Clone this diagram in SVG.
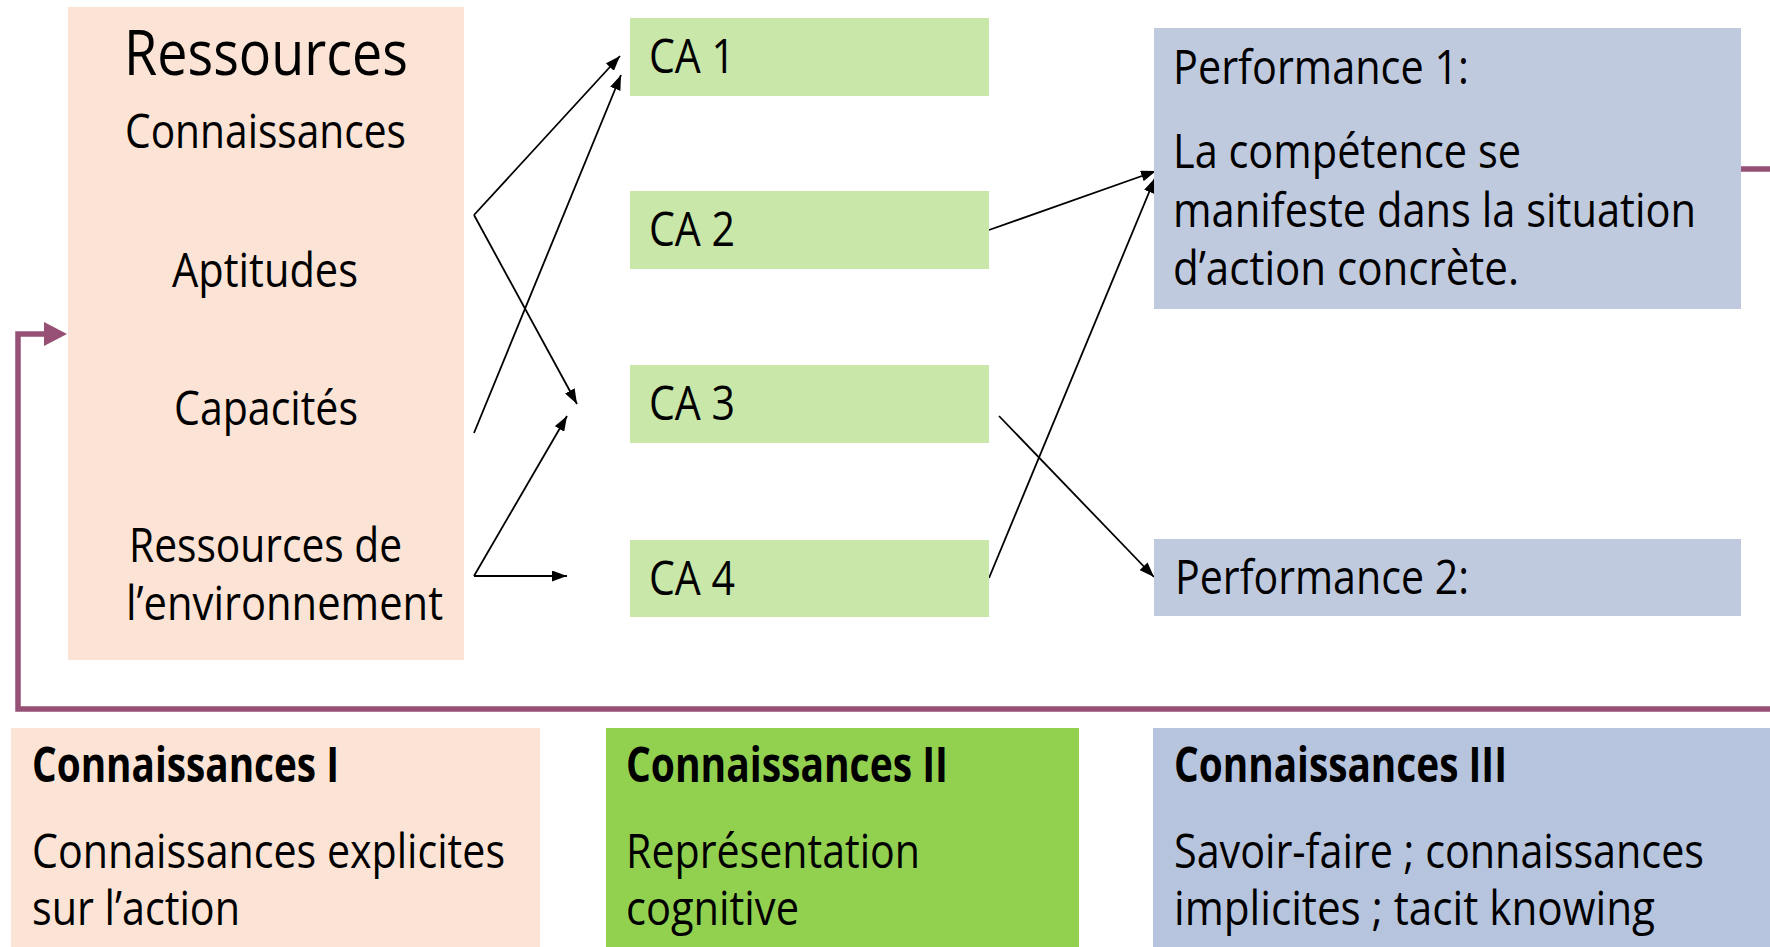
<svg xmlns="http://www.w3.org/2000/svg" width="1770" height="947" viewBox="0 0 1770 947">
<style>
text{font-family:"Open Sans","Noto Sans",sans-serif;font-size:48px;fill:#000}
.big{font-size:63px}
.b{font-weight:bold}
.peach{fill:#FBE4D5}
.ca{fill:#C9E7A9}
.perf{fill:#C0CADF}
.k2{fill:#92D050}
.k3{fill:#B7C4DD}
.arr{stroke:#000;stroke-width:1.8;fill:none;marker-end:url(#ah)}
.loop{stroke:#975075;stroke-width:5.5;fill:none}
</style>
<defs>
<marker id="ah" markerUnits="userSpaceOnUse" markerWidth="15" markerHeight="11" refX="15" refY="5.5" orient="auto">
<path d="M0,0 L15,5.5 L0,11 z" fill="#000"/>
</marker>
</defs>
<rect width="1770" height="947" fill="#fff"/>
<g id="connectors">
<path class="loop" d="M1741,169 H1790 V709 H18 V334 H46"/>
<path d="M44,322 L67,334 L44,346 z" fill="#975075"/>
<path class="arr" d="M474,215 L620,56"/>
<path class="arr" d="M474,215 L577,404"/>
<path class="arr" d="M474,433 L621,75"/>
<path class="arr" d="M474,576 L567,416"/>
<path class="arr" d="M474,576 L567,576"/>
<path class="arr" d="M989,230 L1156,171"/>
<path class="arr" d="M989,578 L1155,178"/>
<path class="arr" d="M999,416 L1154,577"/>
</g>
<g id="ressources">
<rect class="peach" x="68" y="7" width="396" height="653"/>
<text class="big" x="124" y="75" textLength="284" lengthAdjust="spacingAndGlyphs">Ressources</text>
<text x="125" y="148" textLength="281" lengthAdjust="spacingAndGlyphs">Connaissances</text>
<text x="172" y="287" textLength="186" lengthAdjust="spacingAndGlyphs">Aptitudes</text>
<text x="174" y="425" textLength="184" lengthAdjust="spacingAndGlyphs">Capacités</text>
<text x="129" y="562" textLength="273" lengthAdjust="spacingAndGlyphs">Ressources de</text>
<text x="126" y="620" textLength="317" lengthAdjust="spacingAndGlyphs">l’environnement</text>
</g>
<g id="ca1">
<rect class="ca" x="630" y="18" width="359" height="78"/>
<text x="649" y="73" textLength="86" lengthAdjust="spacingAndGlyphs">CA 1</text>
</g>
<g id="ca2">
<rect class="ca" x="630" y="191" width="359" height="78"/>
<text x="649" y="246" textLength="86" lengthAdjust="spacingAndGlyphs">CA 2</text>
</g>
<g id="ca3">
<rect class="ca" x="630" y="365" width="359" height="78"/>
<text x="649" y="420" textLength="86" lengthAdjust="spacingAndGlyphs">CA 3</text>
</g>
<g id="ca4">
<rect class="ca" x="630" y="540" width="359" height="77"/>
<text x="649" y="595" textLength="86" lengthAdjust="spacingAndGlyphs">CA 4</text>
</g>
<g id="performance1">
<rect class="perf" x="1154" y="28" width="587" height="281"/>
<text x="1173" y="84" textLength="296" lengthAdjust="spacingAndGlyphs">Performance 1:</text>
<text x="1173" y="168" textLength="348" lengthAdjust="spacingAndGlyphs">La compétence se</text>
<text x="1173" y="227" textLength="523" lengthAdjust="spacingAndGlyphs">manifeste dans la situation</text>
<text x="1173" y="285" textLength="346" lengthAdjust="spacingAndGlyphs">d’action concrète.</text>
</g>
<g id="performance2">
<rect class="perf" x="1154" y="539" width="587" height="77"/>
<text x="1175" y="594" textLength="294" lengthAdjust="spacingAndGlyphs">Performance 2:</text>
</g>
<g id="connaissances1">
<rect class="peach" x="11" y="728" width="529" height="219"/>
<text class="b" x="32" y="782" textLength="307" lengthAdjust="spacingAndGlyphs">Connaissances I</text>
<text x="32" y="868" textLength="473" lengthAdjust="spacingAndGlyphs">Connaissances explicites</text>
<text x="32" y="925" textLength="208" lengthAdjust="spacingAndGlyphs">sur l’action</text>
</g>
<g id="connaissances2">
<rect class="k2" x="606" y="728" width="473" height="219"/>
<text class="b" x="626" y="782" textLength="322" lengthAdjust="spacingAndGlyphs">Connaissances II</text>
<text x="626" y="868" textLength="294" lengthAdjust="spacingAndGlyphs">Représentation</text>
<text x="626" y="925" textLength="173" lengthAdjust="spacingAndGlyphs">cognitive</text>
</g>
<g id="connaissances3">
<rect class="k3" x="1153" y="728" width="617" height="219"/>
<text class="b" x="1174" y="782" textLength="333" lengthAdjust="spacingAndGlyphs">Connaissances III</text>
<text x="1174" y="868" textLength="530" lengthAdjust="spacingAndGlyphs">Savoir-faire ; connaissances</text>
<text x="1174" y="925" textLength="481" lengthAdjust="spacingAndGlyphs">implicites ; tacit knowing</text>
</g>
</svg>
